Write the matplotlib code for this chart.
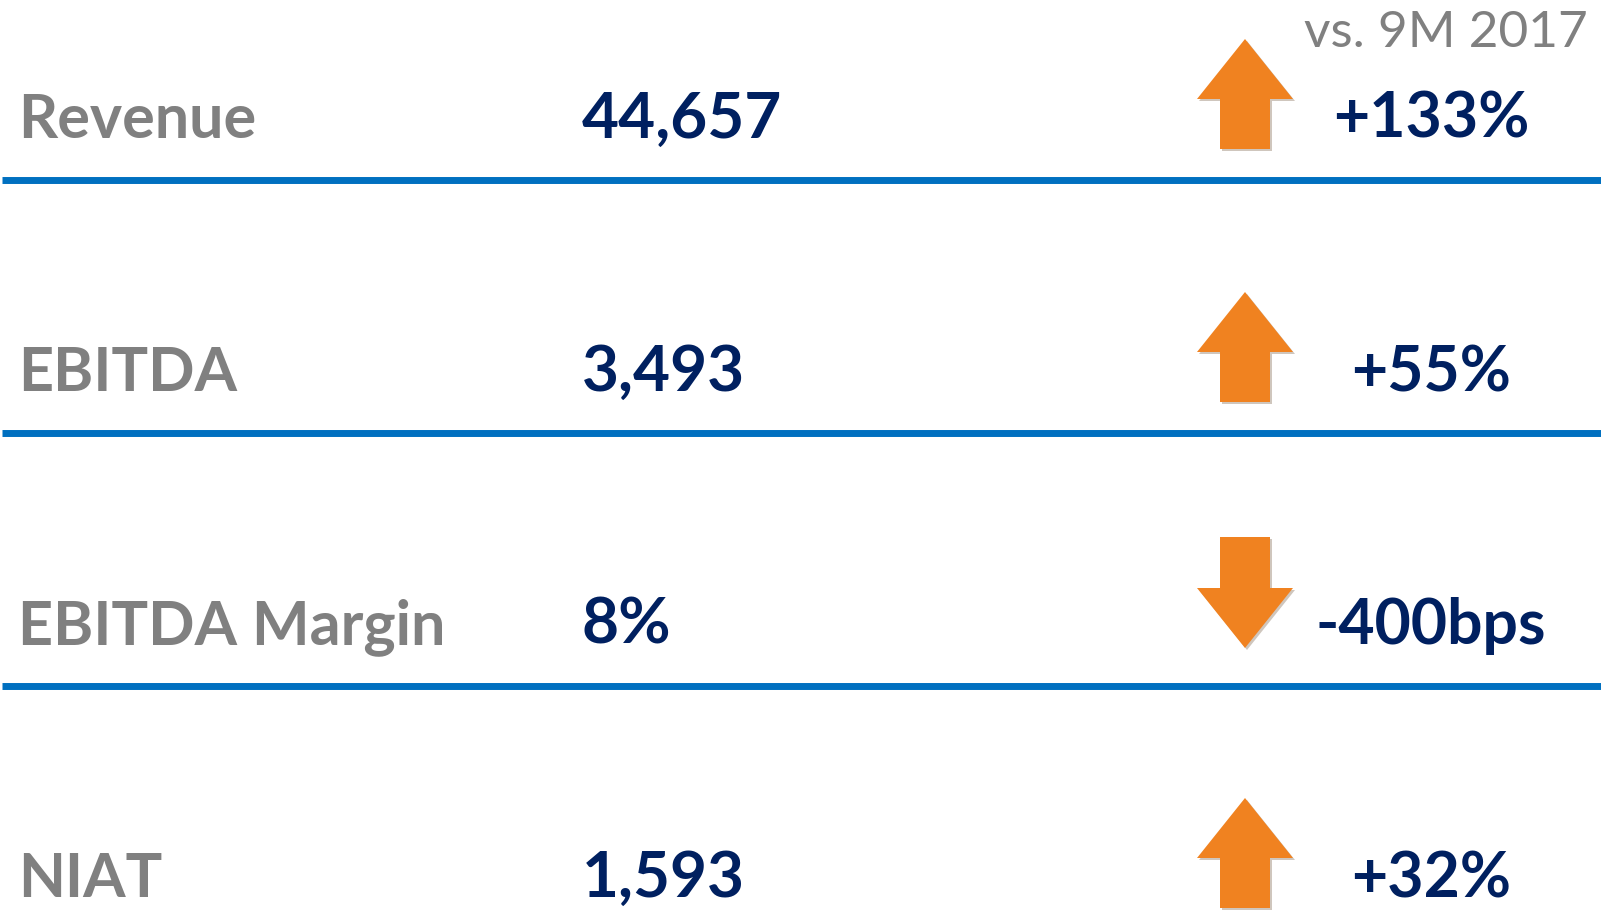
"""
KPI summary panel: 9M results vs. 9M 2017
"""
import matplotlib.pyplot as plt
from matplotlib.patches import FancyArrow

# Data
labels = ["Revenue", "EBITDA", "EBITDA Margin", "NIAT"]
values = ["44,657", "3,493", "8%", "1,593"]
changes = ["+133%", "+55%", "-400bps", "+32%"]
directions = [1, 1, -1, 1]  # 1 = up, -1 = down
header = "vs. 9M 2017"

# Colours
GREY = "#808080"
NAVY = "#002060"
BLUE = "#0070C0"
ORANGE = "#F08220"

plt.rcParams["font.family"] = ["Lato", "DejaVu Sans"]


def plot_panel():
    fig = plt.figure(figsize=(16.01, 9.11), dpi=100)
    ax = fig.add_axes([0, 0, 1, 1])
    ax.set_xlim(0, 1601)
    ax.set_ylim(911, 0)
    ax.axis("off")

    first_line, spacing = 180, 253
    for i, (label, value, change, d) in enumerate(
            zip(labels, values, changes, directions)):
        line_y = first_line + i * spacing
        base = line_y - 42
        # Row texts
        ax.text(18, base, label, color=GREY, fontsize=44, fontweight="bold",
                va="baseline", ha="left")
        ax.text(582, base, value, color=NAVY, fontsize=46, fontweight="bold",
                va="baseline", ha="left")
        ax.text(1431, base, change, color=NAVY, fontsize=45, fontweight="bold",
                va="baseline", ha="center")
        # Arrow (tail -> tip)
        if d > 0:
            y0, y1 = line_y - 31, line_y - 141
        else:
            y0, y1 = line_y - 149, line_y - 38
        for off, col in [((2, 2), "#cfc6bd"), ((0, 0), ORANGE)]:
            ax.add_patch(FancyArrow(1245 + off[0], y0 + off[1], 0, y1 - y0,
                                    width=50, head_width=96, head_length=60,
                                    length_includes_head=True, color=col,
                                    linewidth=0))
        # Separator line
        if line_y < 911:
            ax.hlines(line_y, 2, 1601, color=BLUE, linewidth=5)

    ax.text(1588, 47, header, color=GREY, fontsize=37, va="baseline",
            ha="right")

    fig.savefig("out.png", dpi=100)
    plt.close(fig)


if __name__ == "__main__":
    plot_panel()
